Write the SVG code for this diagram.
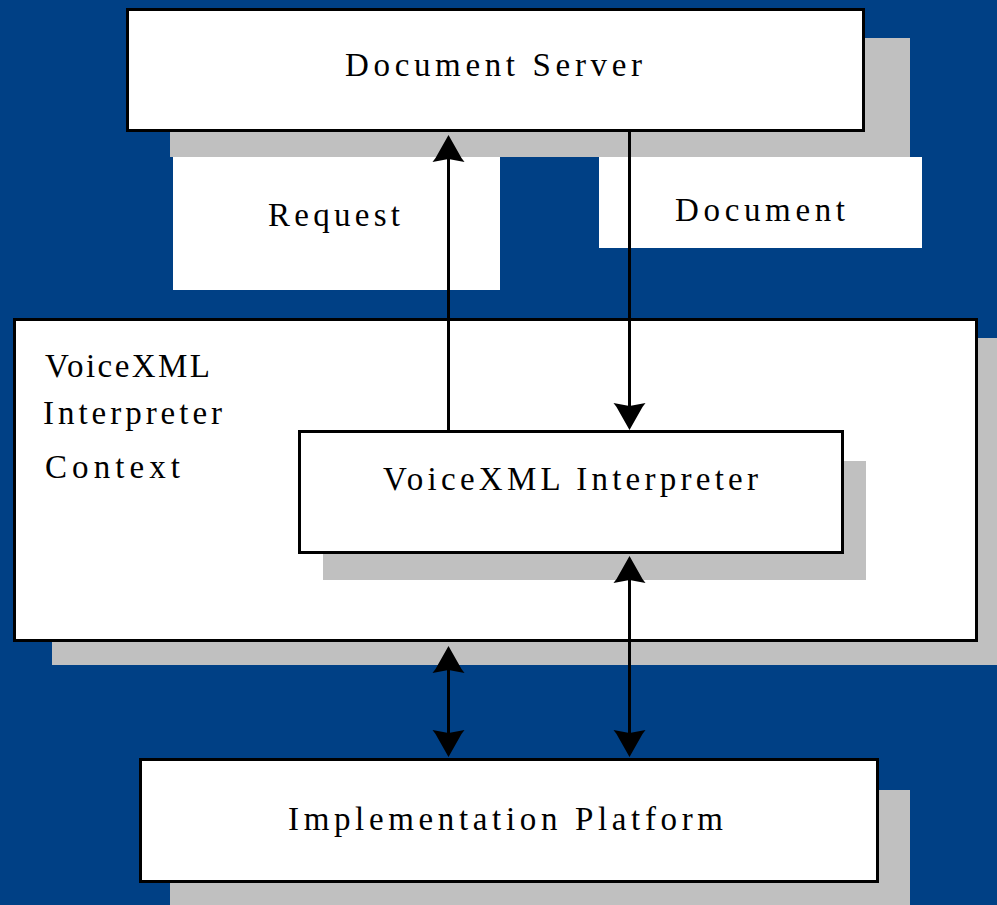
<svg xmlns="http://www.w3.org/2000/svg" width="997" height="905" viewBox="0 0 997 905">
<defs>
<style>
.box{fill:#fff;stroke:#000;stroke-width:3}
.shadow{fill:#c0c0c0}
.label{fill:#fff}
.t{font-family:"Liberation Serif","DejaVu Serif",serif;font-size:33px;fill:#000}
.conn{stroke:#000;stroke-width:3;fill:none}
</style>
<marker id="ah" markerUnits="userSpaceOnUse" viewBox="-30 -20 44 40" refX="0" refY="0" markerWidth="44" markerHeight="40" orient="auto-start-reverse">
<path d="M10,0 L-13,-13 L-17,-16 L-14,0 L-17,16 L-13,13 Z" fill="#000"/>
</marker>
</defs>
<rect x="0" y="0" width="997" height="905" fill="#004085"/>
<g id="document-server">
<rect class="shadow" x="170" y="38" width="740" height="119"/>
<rect class="box" x="127.500" y="9.500" width="736" height="121"/>
<text class="t" x="345" y="76" textLength="297" lengthAdjust="spacing">Document Server</text>
</g>
<g id="request-label">
<rect class="label" x="173" y="157" width="327" height="133"/>
<text class="t" x="268" y="226" textLength="132" lengthAdjust="spacing">Request</text>
</g>
<g id="document-label">
<rect class="label" x="599" y="157" width="323" height="91"/>
<text class="t" x="675" y="221" textLength="170" lengthAdjust="spacing">Document</text>
</g>
<g id="interpreter-context">
<rect class="shadow" x="52" y="338" width="945" height="327"/>
<rect class="box" x="14.500" y="319.500" width="962" height="321"/>
<text class="t" x="45" y="377" textLength="165" lengthAdjust="spacing">VoiceXML</text>
<text class="t" x="43" y="424" textLength="179" lengthAdjust="spacing">Interpreter</text>
<text class="t" x="45" y="478" textLength="135" lengthAdjust="spacing">Context</text>
</g>
<g id="interpreter">
<rect class="shadow" x="323" y="461" width="543" height="119"/>
<rect class="box" x="299.500" y="431.500" width="543" height="121"/>
<text class="t" x="383" y="490" textLength="375" lengthAdjust="spacing">VoiceXML Interpreter</text>
</g>
<g id="implementation-platform">
<rect class="shadow" x="170" y="790" width="740" height="115"/>
<rect class="box" x="140.500" y="759.500" width="737" height="122"/>
<text class="t" x="288" y="830" textLength="435" lengthAdjust="spacing">Implementation Platform</text>
</g>
<g id="connectors">
<line class="conn" x1="448.500" y1="430" x2="448.500" y2="145" marker-end="url(#ah)"/>
<line class="conn" x1="629.500" y1="131" x2="629.500" y2="420" marker-end="url(#ah)"/>
<line class="conn" x1="448.500" y1="656" x2="448.500" y2="747" marker-start="url(#ah)" marker-end="url(#ah)"/>
<line class="conn" x1="629.500" y1="566" x2="629.500" y2="747" marker-start="url(#ah)" marker-end="url(#ah)"/>
</g>
</svg>
